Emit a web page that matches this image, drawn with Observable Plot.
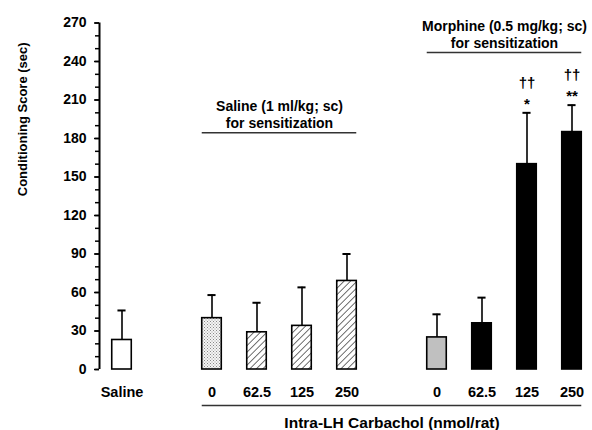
<!DOCTYPE html>
<html>
<head>
<meta charset="utf-8">
<script src="https://cdn.jsdelivr.net/npm/d3@7"></script>
<script src="https://cdn.jsdelivr.net/npm/@observablehq/plot@0.6"></script>
<style>
  html, body { margin: 0; padding: 0; background: #fff; }
  svg { display: block; }
</style>
</head>
<body>
<div id="chart"></div>
<script>
// ---- data ----
const groups = ["Saline", "Saline (1 ml/kg; sc)\nfor sensitization", "Morphine (0.5 mg/kg; sc)\nfor sensitization"];
const doseLabels = [["Saline"], ["0", "62.5", "125", "250"], ["0", "62.5", "125", "250"]];
const means = [[23], [40, 29, 34, 69], [25, 36, 160, 185]];
const errors = [[23], [18, 23, 30, 21], [18, 20, 40, 21]];
const stars = [[""], ["", "", "", ""], ["", "", "*", "**"]];
const daggers = [[""], ["", "", "", ""], ["", "", "††", "††"]];
const yTicks = [0, 30, 60, 90, 120, 150, 180, 210, 240, 270];
const xTitle = "Intra-LH Carbachol (nmol/rat)";
const yTitle = "Conditioning Score (sec)";

// ---- build table ----
const rows = [];
let pos = 0;
groups.forEach((g, gi) => {
  doseLabels[gi].forEach((lab, i) => {
    rows.push({group: gi, idx: i, label: lab, pos, v: means[gi][i], e: errors[gi][i],
               star: stars[gi][i], dag: daggers[gi][i]});
    pos += 1;
  });
  pos += 1; // gap between groups
});
const half = 0.217;
function fillFor(d) {
  if (d.group === 0) return "white";
  if (d.group === 1) return d.idx === 0 ? "url(#stipple)" : "url(#hatch)";
  return d.idx === 0 ? "#c0c0c0" : "black";
}
const groupSpans = groups.slice(1).map((g, k) => {
  const r = rows.filter(d => d.group === k + 1);
  return {text: g, x1: r[0].pos - half, x2: r[r.length - 1].pos + half,
          xc: (r[0].pos + r[r.length - 1].pos) / 2};
});
const headerY = [184.5, 247]; // underline level of group headers (in score units)
const font = "'Liberation Sans', Arial, sans-serif";

const svg = Plot.plot({
  width: 592,
  height: 430,
  marginLeft: 99,
  marginRight: 2.5,
  marginTop: 22.5,
  marginBottom: 61,
  style: {fontFamily: font, background: "white", color: "black", overflow: "visible"},
  x: {domain: [-0.5, 10.4], axis: null},
  y: {domain: [0, 270], axis: null},
  marks: [
    // y axis
    Plot.axisY({ticks: d3.range(0, 271, 10), tickSize: 4, tickFormat: () => "", strokeWidth: 1.5, label: null}),
    Plot.axisY({ticks: yTicks, tickSize: 5, tickPadding: 8, strokeWidth: 1.5,
                fontSize: 14, fontWeight: "bold", label: null}),
    Plot.ruleX([-0.5], {y1: 0, y2: 270, strokeWidth: 2}),
    Plot.text([yTitle], {frameAnchor: "left", dx: -77, rotate: -90, fontSize: 13, fontWeight: "bold"}),
    // error bars
    Plot.ruleX(rows, {x: "pos", y1: "v", y2: d => d.v + d.e, strokeWidth: 1.6}),
    Plot.ruleY(rows, {y: d => d.v + d.e, x1: d => d.pos - 0.09, x2: d => d.pos + 0.09, strokeWidth: 2}),
    // bars
    Plot.rectY(rows, {x1: d => d.pos - half, x2: d => d.pos + half, y1: 0, y2: "v",
                      fill: fillFor, stroke: "black", strokeWidth: 1.6}),
    // significance
    Plot.text(rows, {x: "pos", y: d => d.v + d.e, text: "star", dy: -9, fontSize: 15, fontWeight: "bold", fill: "black"}),
    Plot.text(rows, {x: "pos", y: d => d.v + d.e, text: "dag", dy: -30, fontSize: 15, fontWeight: "bold", fill: "black"}),
    // x labels
    Plot.text(rows, {x: "pos", y: 0, text: "label", dy: 23, fontSize: 14.5, fontWeight: "bold"}),
    Plot.ruleY([0], {x1: groupSpans[0].x1, x2: groupSpans[1].x2, dy: 36, strokeWidth: 1.3, stroke: "#333"}),
    Plot.text([xTitle], {x: 6, y: 0, dy: 54, fontSize: 15.5, fontWeight: "bold"}),
    // group headers
    Plot.ruleY(groupSpans, {y: (d, i) => headerY[i], x1: "x1", x2: "x2", strokeWidth: 1.3, stroke: "#333"}),
    Plot.text(groupSpans, {x: "xc", y: (d, i) => headerY[i], text: "text", lineAnchor: "bottom",
                           dy: -5, lineHeight: 1.2, fontSize: 14, fontWeight: "bold"})
  ]
});

// patterns
const ns = "http://www.w3.org/2000/svg";
const defs = document.createElementNS(ns, "defs");
defs.innerHTML = `
  <pattern id="hatch" patternUnits="userSpaceOnUse" width="4.6" height="4.6" patternTransform="rotate(45)">
    <rect width="4.6" height="4.6" fill="white"/>
    <line x1="0" y1="0" x2="0" y2="4.6" stroke="#222" stroke-width="1.3"/>
  </pattern>
  <pattern id="stipple" patternUnits="userSpaceOnUse" width="3" height="3">
    <rect width="3" height="3" fill="#f4f4f4"/>
    <rect x="0" y="0" width="1" height="1" fill="#888"/>
    <rect x="1.5" y="1.5" width="1" height="1" fill="#999"/>
  </pattern>`;
svg.insertBefore(defs, svg.firstChild);
document.getElementById("chart").appendChild(svg);
</script>
</body>
</html>
